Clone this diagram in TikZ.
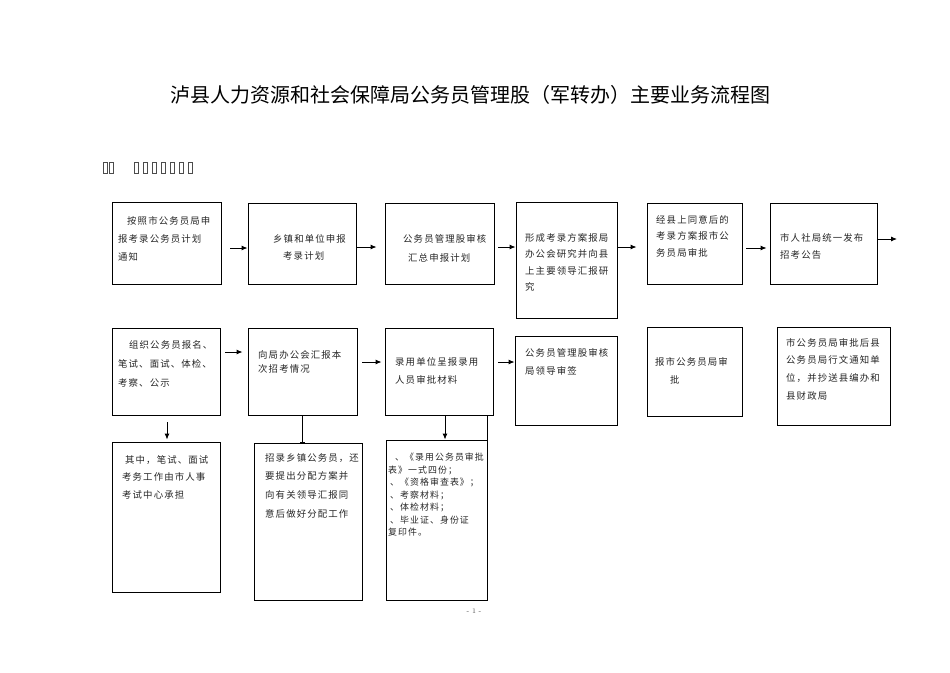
\documentclass[tikz,border=0pt]{standalone}
\usepackage{fontspec}
\newfontfamily\cjk{Noto Sans CJK SC}
\newfontfamily\cjks[LetterSpace=12]{Noto Sans CJK SC}
\usetikzlibrary{arrows.meta}
\begin{document}
\begin{tikzpicture}[x=1pt,y=-1pt,
  box/.style={draw=black, line width=0.9pt, inner sep=0pt},
  txt/.style={anchor=north west, inner sep=0pt, align=left, text=black!85,
              font=\cjks\fontsize{9.4pt}{#1}\selectfont},
  arr/.style={line width=0.9pt, -{Latex[length=6pt,width=5pt]}},
  plain/.style={line width=0.9pt}]
\useasboundingbox[fill=white] (0,0) rectangle (950,672);

% title
\node[anchor=west, inner sep=0pt, font=\cjk\fontsize{20pt}{22pt}\selectfont] (title) at (170,95)
  {泸县人力资源和社会保障局公务员管理股（军转办）主要业务流程图};

% missing-glyph boxes of the header line
\foreach \x in {103,109.5}
  \draw[black!70, line width=0.6pt] (\x,162) rectangle ++(4,11);
\foreach \i in {0,...,6}
  \draw[black!70, line width=0.6pt] (134+\i*9,162) rectangle ++(4.5,11);

% ---------- row 1 ----------
\node[box, minimum width=109pt, minimum height=82pt] (a1) at (166.5,243) {};
\node[box, minimum width=108pt, minimum height=81pt] (a2) at (302,243.5) {};
\node[box, minimum width=109pt, minimum height=81pt] (a3) at (439.5,243.5) {};
\node[box, minimum width=101pt, minimum height=116pt] (a4) at (566.5,260) {};
\node[box, minimum width=95pt, minimum height=81pt] (a5) at (694.5,243.5) {};
\node[box, minimum width=107pt, minimum height=81pt] (a6) at (823.5,243.5) {};

\node[txt=18pt] (a1t) at (118,216) {\hspace*{9pt}按照市公务员局申\\报考录公务员计划\\通知};
\node[txt=17pt] (a2t) at (273,234) {乡镇和单位申报\\\hspace*{10pt}考录计划};
\node[txt=19pt] (a3t) at (403,234) {公务员管理股审核\\\hspace*{5pt}汇总申报计划};
\node[txt=16.5pt] (a4t) at (525,233) {形成考录方案报局\\办公会研究并向县\\上主要领导汇报研\\究};
\node[txt=16.5pt] (a5t) at (656,215) {经县上同意后的\\考录方案报市公\\务员局审批};
\node[txt=17pt] (a6t) at (780,233) {市人社局统一发布\\招考公告};

\coordinate (out) at (897,239);
\draw[arr, shorten <=9pt] (a1.east |- 0,248) -- (a2.west |- 0,248);
\draw[arr, shorten >=8pt] (a2.east |- 0,247) -- (a3.west |- 0,247);
\draw[arr, shorten <=4pt] (a3.east |- 0,247) -- (a4.west |- 0,247);
\draw[arr, shorten >=10pt] (a4.east |- 0,247) -- (a5.west |- 0,247);
\draw[arr, shorten <=4pt, shorten >=3pt] (a5.east |- 0,248) -- (a6.west |- 0,248);
\draw[arr] (a6.east |- out) -- (out);

% ---------- row 2 ----------
\node[box, minimum width=108pt, minimum height=87pt] (b1) at (166,371.5) {};
\node[box, minimum width=109pt, minimum height=87pt] (b2) at (302.5,371.5) {};
\node[box, minimum width=108pt, minimum height=87pt] (b3) at (439,371.5) {};
\node[box, minimum width=102pt, minimum height=89pt] (b4) at (566,380.5) {};
\node[box, minimum width=95pt, minimum height=89pt] (b5) at (694.5,371.5) {};
\node[box, minimum width=113pt, minimum height=98pt] (b6) at (833.5,376) {};

\node[txt=19pt] (b1t) at (118,340) {\hspace*{11pt}组织公务员报名、\\笔试、面试、体检、\\考察、公示};
\node[txt=14.5pt] (b2t) at (258,350) {向局办公会汇报本\\次招考情况};
\node[txt=18pt] (b3t) at (395,357) {录用单位呈报录用\\人员审批材料};
\node[txt=18.5pt] (b4t) at (525,348) {公务员管理股审核\\局领导审签};
\node[txt=18pt] (b5t) at (655,357) {报市公务员局审\\\hspace*{15pt}批};
\node[txt=17.7pt] (b6t) at (786,338) {市公务员局审批后县\\公务员局行文通知单\\位，并抄送县编办和\\县财政局};

\draw[arr, shorten <=5pt, shorten >=5pt] (b1.east |- 0,352) -- (b2.west |- 0,352);
\draw[arr, shorten <=5pt, shorten >=3pt] (b2.east |- 0,362) -- (b3.west |- 0,362);
\draw[arr, shorten <=5pt] (b3.east |- 0,362) -- (b4.west |- 0,362);

% ---------- row 3 ----------
\node[box, minimum width=108pt, minimum height=150pt] (c1) at (166,517) {};
\node[box, minimum width=108pt, minimum height=157pt] (c2) at (308,521.5) {};
\node[box, minimum width=101pt, minimum height=160pt] (c3) at (436.5,520) {};

\node[txt=17.5pt] (c1t) at (122,455) {\hspace*{3pt}其中，笔试、面试\\考务工作由市人事\\考试中心承担};
\node[txt=18.7pt] (c2t) at (265,453) {招录乡镇公务员，还\\要提出分配方案并\\向有关领导汇报同\\意后做好分配工作};
\node[anchor=north west, inner sep=0pt, align=left, text=black!85,
      font=\cjks\fontsize{8.9pt}{12.5pt}\selectfont] (c3t) at (388,453)
  {\hspace*{7pt}、《录用公务员审批\\表》一式四份；\\\hspace*{2pt}、《资格审查表》；\\\hspace*{2pt}、考察材料；\\\hspace*{2pt}、体检材料；\\\hspace*{2pt}、毕业证、身份证\\复印件。};

\draw[arr, shorten <=7pt, shorten >=2pt] (b1.south -| 167,0) -- (c1.north -| 167,0);
\draw[plain, -{Bar[width=5pt,line width=0.9pt]}] (b2.south -| 302,0) -- (c2.north -| 302,0);
\draw[arr] (b3.south -| 445,0) -- (c3.north -| 445,0);
\draw[plain] (c3.north east) -- (c3.north east |- b3.south);

% page number
\node[font=\fontsize{7pt}{8pt}\selectfont, text=black!70, inner sep=0pt] (pg) at (474,611) {- 1 -};
\end{tikzpicture}
\end{document}
